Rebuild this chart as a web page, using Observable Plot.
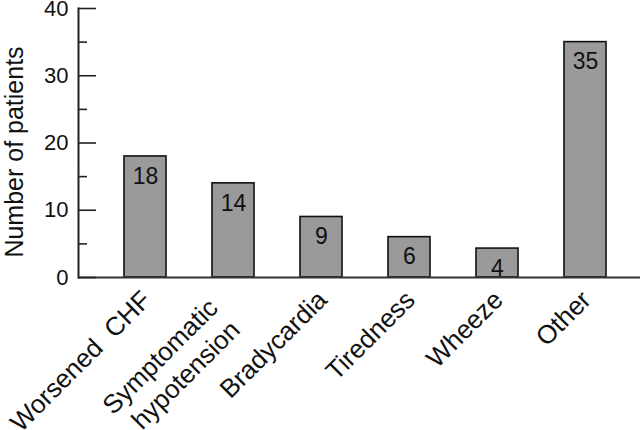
<!DOCTYPE html>
<html>
<head>
<meta charset="utf-8">
<script src="https://cdn.jsdelivr.net/npm/d3@7"></script>
<script src="https://cdn.jsdelivr.net/npm/@observablehq/plot@0.6"></script>
<style>
  html, body { margin: 0; padding: 0; background: #fff; }
  svg { display: block; }
</style>
</head>
<body>
<div id="chart"></div>
<script>
const categories = ["Worsened  CHF", "Symptomatic\nhypotension", "Bradycardia", "Tiredness", "Wheeze", "Other"];
const values = [18, 14, 9, 6, 4.3, 35];
const valueLabels = ["18", "14", "9", "6", "4", "35"];
const majorTicks = [0, 10, 20, 30, 40];
const minorTicks = [5, 15, 25, 35];
const yLabel = "Number of patients";

const data = categories.map((c, i) => ({cat: c, value: values[i], label: valueLabels[i]}));
const single = data.filter(d => !d.cat.includes("\n"));
const multi = data.filter(d => d.cat.includes("\n"));

const W = 640, ML = 78, MR = 0;
const inner = W - ML - MR;

const chart = Plot.plot({
  width: W,
  height: 430,
  marginTop: 8,
  marginBottom: 153,
  marginLeft: ML,
  marginRight: MR,
  style: {fontFamily: "'Liberation Sans', Arial, sans-serif", color: "#111", background: "#fff"},
  x: {domain: categories, range: [78, 652], paddingInner: 0.524, paddingOuter: 0.51, axis: null},
  y: {domain: [0, 40], axis: null},
  marks: [
    Plot.barY(data, {x: "cat", y: "value", fill: "#9a9a9a", stroke: "#111", strokeWidth: 1.6}),
    Plot.ruleY([0], {stroke: "#333", strokeWidth: 1.8}),
    Plot.frame({anchor: "left", stroke: "#222", strokeWidth: 2}),
    Plot.ruleY(majorTicks, {y: d => d, insetRight: inner - 18, stroke: "#222", strokeWidth: 1.6}),
    Plot.ruleY(minorTicks, {y: d => d, insetRight: inner - 9, stroke: "#222", strokeWidth: 1.6}),
    Plot.axisY(majorTicks, {tickSize: 0, tickPadding: 10, fontSize: 22, fill: "#111", label: null}),
    Plot.text([yLabel], {text: d => d, frameAnchor: "left", textAnchor: "middle", rotate: -90, dx: -64, dy: 9, fontSize: 25, fill: "#111"}),
    Plot.text(data, {x: "cat", y: "value", text: "label", lineAnchor: "top", dy: 11, fontSize: 23, fill: "#111"}),
    Plot.text(single, {x: "cat", frameAnchor: "bottom", text: "cat", rotate: -45, textAnchor: "end", dx: 7, dy: 24, fontSize: 26, fill: "#111"}),
    Plot.text(multi, {x: "cat", frameAnchor: "bottom", text: "cat", rotate: -45, textAnchor: "end", lineHeight: 1.2, dx: 8, dy: 54, fontSize: 26, fill: "#111"})
  ]
});
document.getElementById("chart").appendChild(chart);
</script>
</body>
</html>
